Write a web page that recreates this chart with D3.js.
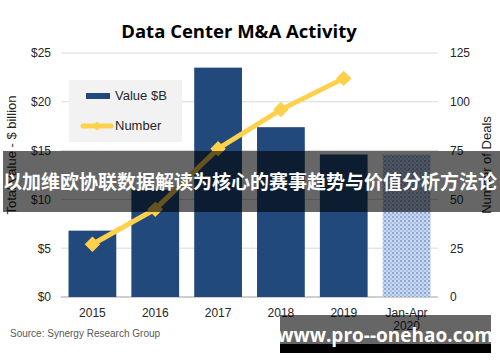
<!DOCTYPE html>
<html lang="en">
<head>
  <meta charset="UTF-8">
  <title>Data Center M&amp;A Activity</title>
  <script src="https://d3js.org/d3.v7.min.js"></script>
  <style>
    body { margin: 0; background: #fff; }
    svg { display: block; }
    .tick text { font-family: "Liberation Sans", Arial, sans-serif; font-size: 12px; fill: #262626; }
  </style>
</head>
<body>
  <svg id="chart"></svg>
  <script>
    // chart data
    const years = ["2015", "2016", "2017", "2018", "2019", "Jan-Apr 2020"];
    const values = [6.8, 11.0, 23.5, 17.4, 14.6, 14.6];
    const deals = [27, 45, 76, 96, 112];
    const leftTicks = [0, 5, 10, 15, 20, 25];
    const rightTicks = [0, 25, 50, 75, 100, 125];

    const width = 500, height = 362;
    const margin = { top: 53, right: 62, bottom: 65, left: 61 };

    const svg = d3.select("#chart").attr("width", width).attr("height", height);

    // pattern for the partial year bar
    const defs = svg.append("defs");
    const pat = defs.append("pattern")
      .attr("id", "dots")
      .attr("width", 4).attr("height", 4)
      .attr("patternUnits", "userSpaceOnUse");
    pat.append("rect").attr("width", 4).attr("height", 4).attr("fill", "#c9d8f0");
    pat.append("rect").attr("width", 2).attr("height", 2).attr("fill", "#8ea7d2");
    pat.append("rect").attr("x", 2).attr("y", 2).attr("width", 2).attr("height", 2).attr("fill", "#a9bfe3");

    const x = d3.scaleBand()
      .domain(years)
      .range([margin.left, width - margin.right])
      .paddingInner(0.24)
      .paddingOuter(0.12);

    const y = d3.scaleLinear().domain([0, 25]).range([height - margin.bottom, margin.top]);
    const y2 = d3.scaleLinear().domain([0, 125]).range([height - margin.bottom, margin.top]);

    // gridlines
    svg.append("g")
      .selectAll("line")
      .data(leftTicks)
      .join("line")
      .attr("x1", margin.left)
      .attr("x2", width - margin.right)
      .attr("y1", d => y(d))
      .attr("y2", d => y(d))
      .attr("stroke", d => d === 0 ? "#bfbfbf" : "#d9d9d9")
      .attr("stroke-width", d => d === 0 ? 1.5 : 1);

    // left axis
    svg.append("g")
      .attr("transform", `translate(${margin.left - 4},0)`)
      .call(d3.axisLeft(y).tickValues(leftTicks).tickFormat(d => "$" + d).tickSize(0).tickPadding(6))
      .call(g => g.select(".domain").remove());

    // right axis
    svg.append("g")
      .attr("transform", `translate(${width - margin.right + 6},0)`)
      .call(d3.axisRight(y2).tickValues(rightTicks).tickSize(0).tickPadding(6))
      .call(g => g.select(".domain").remove());

    // bars
    svg.append("g")
      .selectAll("rect")
      .data(years)
      .join("rect")
      .attr("x", d => x(d))
      .attr("y", (d, i) => y(values[i]))
      .attr("width", x.bandwidth())
      .attr("height", (d, i) => y(0) - y(values[i]))
      .attr("fill", (d, i) => i === years.length - 1 ? "url(#dots)" : "#21497b");

    // x labels
    const xl = svg.append("g")
      .attr("font-family", "Liberation Sans, Arial, sans-serif")
      .attr("font-size", 12)
      .attr("fill", "#262626")
      .attr("text-anchor", "middle");
    years.forEach(function (d) {
      const parts = d.split(" ");
      const t = xl.append("text").attr("x", x(d) + x.bandwidth() / 2).attr("y", 317);
      parts.forEach((p, j) => t.append("tspan").attr("x", x(d) + x.bandwidth() / 2).attr("dy", j === 0 ? 0 : 13).text(p));
    });

    // deals line
    const line = d3.line()
      .x((d, i) => x(years[i]) + x.bandwidth() / 2)
      .y(d => y2(d));

    svg.append("path")
      .datum(deals)
      .attr("d", line)
      .attr("fill", "none")
      .attr("stroke", "#fdd14c")
      .attr("stroke-width", 5);

    svg.append("g")
      .selectAll("path")
      .data(deals)
      .join("path")
      .attr("d", d3.symbol().type(d3.symbolSquare).size(120))
      .attr("transform", (d, i) => `translate(${x(years[i]) + x.bandwidth() / 2},${y2(d)}) rotate(45)`)
      .attr("fill", "#fdd14c");

    // legend
    const lg = svg.append("g");
    lg.append("rect").attr("x", 69).attr("y", 80).attr("width", 113).attr("height", 62).attr("fill", "#f2f2f2");
    lg.append("rect").attr("x", 86).attr("y", 93).attr("width", 24).attr("height", 6).attr("fill", "#21497b");
    lg.append("line").attr("x1", 83).attr("x2", 111).attr("y1", 126).attr("y2", 126)
      .attr("stroke", "#fdd14c").attr("stroke-width", 5).attr("stroke-linecap", "round");
    lg.append("path").attr("d", d3.symbol().type(d3.symbolSquare).size(40))
      .attr("transform", "translate(97,126) rotate(45)").attr("fill", "#fdd14c");
    lg.selectAll("text.lt")
      .data(["Value $B", "Number"])
      .join("text")
      .attr("x", 115)
      .attr("y", (d, i) => i === 0 ? 100 : 130)
      .attr("font-family", "Liberation Sans, Arial, sans-serif")
      .attr("font-size", 13)
      .attr("fill", "#262626")
      .text(d => d);

    // title
    svg.append("text")
      .attr("x", 239)
      .attr("y", 38)
      .attr("text-anchor", "middle")
      .attr("font-family", "Open Sans, sans-serif")
      .attr("font-weight", "bold")
      .attr("font-size", 18.5)
      .attr("fill", "#000")
      .text("Data Center M&A Activity");

    // axis titles
    svg.append("text")
      .attr("transform", "translate(16,155) rotate(-90)")
      .attr("text-anchor", "middle")
      .attr("font-family", "Liberation Sans, Arial, sans-serif")
      .attr("font-size", 13)
      .attr("fill", "#262626")
      .text("Total Value - $ billion");

    svg.append("text")
      .attr("transform", "translate(491,165) rotate(-90)")
      .attr("text-anchor", "middle")
      .attr("font-family", "Liberation Sans, Arial, sans-serif")
      .attr("font-size", 13)
      .attr("fill", "#262626")
      .text("Number of Deals");

    // source
    svg.append("text")
      .attr("x", 10)
      .attr("y", 337)
      .attr("font-family", "Liberation Sans, Arial, sans-serif")
      .attr("font-size", 10)
      .attr("fill", "#595959")
      .text("Source: Synergy Research Group");

    // watermark banner
    svg.append("rect").attr("x", 3).attr("y", 151).attr("width", 497).attr("height", 61)
      .attr("fill", "#000").attr("opacity", 0.6);
    svg.append("text")
      .attr("x", 250)
      .attr("y", 189)
      .attr("text-anchor", "middle")
      .attr("font-family", "Noto Sans CJK SC, sans-serif")
      .attr("font-weight", "bold")
      .attr("font-size", 19)
      .attr("fill", "#fff")
      .text("以加维欧协联数据解读为核心的赛事趋势与价值分析方法论");

    // watermark url
    svg.append("rect").attr("x", 280).attr("y", 315).attr("width", 211).attr("height", 29)
      .attr("fill", "#000").attr("opacity", 0.6);
    svg.append("rect").attr("x", 280).attr("y", 344).attr("width", 211).attr("height", 9)
      .attr("fill", "#000");
    svg.append("text")
      .attr("x", 385)
      .attr("y", 342)
      .attr("text-anchor", "middle")
      .attr("font-family", "Open Sans, sans-serif")
      .attr("font-weight", "bold")
      .attr("font-size", 19)
      .attr("fill", "#fff")
      .text("www.pro--onehao.com");
  </script>
</body>
</html>
